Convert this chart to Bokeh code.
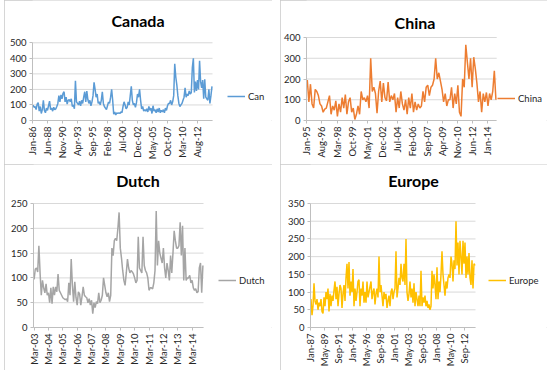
from bokeh.plotting import figure
from bokeh.layouts import column, row
from bokeh.models import Legend, LegendItem, Label, FixedTicker, ColumnDataSource, Range1d
from bokeh.embed import file_html
from bokeh.resources import INLINE

# ---------------- data ----------------
canada_labels = ["Jan-86", "Jun-88", "Nov-90", "Apr-93", "Sep-95", "Feb-98",
                 "Jul-00", "Dec-02", "May-05", "Oct-07", "Mar-10", "Aug-12"]
canada_months = 348          # Jan-86 .. Dec-14, one value per two months
canada_values = [
    100, 85, 90, 70, 105, 115,
    60, 90, 45, 70, 130, 65,
    50, 80, 65, 95, 125, 70,
    80, 60, 85, 70, 75, 90,
    110, 160, 120, 165, 140, 175,
    185, 120, 150, 105, 130, 135,
    120, 140, 90, 100, 75, 255,
    120, 110, 100, 125, 95, 130,
    110, 150, 185, 120, 190, 135,
    110, 130, 95, 120, 160, 245,
    200, 150, 170, 110, 120, 100,
    130, 185, 110, 90, 80, 70,
    95, 120, 110, 150, 200, 130,
    40, 55, 35, 50, 45, 50,
    45, 55, 50, 90, 120, 100,
    75, 85, 120, 100, 160, 220,
    130, 100, 110, 85, 115, 170,
    150, 200, 130, 75, 90, 60,
    70, 60, 75, 55, 90, 65,
    80, 45, 95, 60, 70, 50,
    75, 55, 80, 50, 65, 55,
    70, 50, 80, 65, 95, 110,
    110, 130, 100, 120, 160, 365,
    280, 230, 160, 110, 90, 100,
    110, 130, 150, 210, 150, 170,
    160, 190, 170, 180, 340, 400,
    180, 250, 190, 260, 200, 385,
    250, 210, 260, 140, 265, 150,
    140, 130, 200, 110, 160, 220,
]

china_labels = ["Jan-95", "Aug-96", "Mar-98", "Oct-99", "May-01", "Dec-02", "Jul-04",
                "Feb-06", "Sep-07", "Apr-09", "Nov-10", "Jun-12", "Jan-14"]
china_months = 240           # Jan-95 .. Dec-14, one value per two months
china_values = [
    195, 90, 175, 80, 60, 150,
    140, 120, 80, 70, 40, 55,
    60, 90, 120, 30, 70, 50,
    95, 20, 80, 40, 110, 60,
    125, 30, 90, 110, 40, 60,
    5, 30, 70, 30, 140, 100,
    110, 90, 120, 60, 300, 140,
    160, 130, 35, 140, 190, 90,
    180, 110, 95, 185, 90, 120,
    100, 130, 40, 110, 60, 140,
    80, 50, 100, 30, 110, 60,
    130, 40, 90, 50, 80, 60,
    70, 140, 90, 160, 170, 120,
    160, 170, 200, 300, 200, 230,
    190, 150, 90, 130, 70, 100,
    100, 160, 60, 130, 80, 170,
    40, 20, 200, 160, 365, 280,
    200, 300, 160, 305, 250, 180,
    90, 140, 40, 130, 90, 135,
    70, 130, 100, 140, 240, 100,
]

dutch_labels = ["Mar-03", "Mar-04", "Mar-05", "Mar-06", "Mar-07", "Mar-08",
                "Mar-09", "Mar-10", "Mar-11", "Mar-12", "Mar-13", "Mar-14"]
dutch_months = 142           # Mar-03 .. Dec-14, monthly
dutch_values = [
    97, 118, 120, 112, 165, 110, 65, 95, 80, 70, 88, 65,
    70, 50, 80, 48, 82, 65, 82, 72, 108, 75, 70, 65,
    60, 58, 56, 58, 52, 90, 65, 138, 85, 52, 92, 60,
    45, 72, 68, 45, 62, 82, 65, 62, 60, 50, 58, 45,
    55, 28, 50, 40, 52, 48, 70, 50, 55, 65, 100, 85,
    70, 62, 70, 52, 65,
    160, 145, 175, 180, 175, 200, 232,
    160, 140, 115, 95, 85, 110, 138, 120,
    110, 115, 112, 108, 100, 90, 95, 183,
    120, 115, 110, 183, 125, 115, 110, 100,
    75, 80, 80, 78, 90, 115,
    235, 125, 175, 150, 140, 130, 160, 120,
    100, 130, 115, 95, 145, 110, 150, 195,
    175, 160, 160, 165, 212, 145, 205, 95,
    160, 95, 100, 100, 105, 90, 95, 80,
    75, 78, 70, 72, 120, 130, 70, 125,
]

europe_labels = ["Jan-87", "May-89", "Sep-91", "Jan-94", "May-96", "Sep-98",
                 "Jan-01", "May-03", "Sep-05", "Jan-08", "May-10", "Sep-12"]
europe_months = 330          # Jan-87 .. Jun-14, one value per two months
europe_values = [
    80, 35, 60, 125, 75, 65,
    80, 50, 70, 60, 80, 45,
    40, 85, 60, 100, 80, 110,
    45, 95, 60, 90, 75, 105,
    130, 80, 115, 60, 95, 120,
    110, 55, 95, 120, 75, 140,
    180, 110, 185, 90, 130, 100,
    165, 60, 110, 75, 100, 130,
    135, 60, 110, 90, 130, 70,
    100, 70, 130, 85, 100, 115,
    130, 80, 100, 110, 65, 95,
    110, 85, 200, 100, 120, 90,
    60, 100, 80, 95, 55, 75,
    90, 60, 100, 110, 80, 100,
    110, 215, 85, 110, 140, 120,
    180, 140, 130, 180, 120, 250,
    100, 75, 95, 130, 85, 110,
    70, 125, 60, 100, 80, 60,
    90, 60, 160, 60, 85, 70,
    90, 60, 75, 55, 65, 50,
    60, 160, 110, 150, 120, 80,
    170, 80, 130, 100, 150, 215,
    150, 120, 90, 130, 110, 140,
    150, 140, 200, 180, 130, 190,
    165, 300, 175, 240, 150, 245,
    200, 150, 245, 180, 240, 140,
    200, 150, 210, 140, 120, 190,
    110, 180, 175,
]

FONT = "Lato"
AXIS_C = "#bfbfbf"
GRID_C = "#d9d9d9"
TEXT_C = "#262626"


def panel(title, legend_label, color, values, step, n_months, labels, interval,
          y_max, y_step, W, H, area, title_xy, leg_xy):
    # area: plot-area edges inside the figure (left, right, top, bottom) in px
    al, ar, at, ab = area
    frame_w = W - al
    x_end = -0.5 + n_months * frame_w / (ar - al)
    y_top = y_max * ab / (ab - at)
    p = figure(width=W, height=H, output_backend="svg", toolbar_location=None,
               x_range=Range1d(-0.5, x_end), y_range=Range1d(0, y_top),
               min_border_left=al, min_border_right=0,
               min_border_top=0, min_border_bottom=H - ab)
    p.outline_line_color = None
    p.background_fill_color = "white"
    p.border_fill_color = "white"
    p.styles = {"outline": "1px solid #c9c9c9", "outline-offset": "-1px"}
    p.xgrid.visible = False
    p.ygrid.visible = False

    y_ticks = list(range(0, y_max + 1, y_step))
    p.segment(x0=[-0.5] * len(y_ticks), x1=[n_months - 0.5] * len(y_ticks),
              y0=y_ticks, y1=y_ticks, line_color=GRID_C, line_width=1)

    xs = [i * step + (step - 1) / 2 for i in range(len(values))]
    src = ColumnDataSource(dict(x=xs, y=values))
    r = p.line("x", "y", source=src, line_color=color, line_width=1.5)

    ticks = [i * interval for i in range(len(labels))]
    p.xaxis.ticker = FixedTicker(ticks=ticks)
    p.xaxis.major_label_overrides = {t: lab for t, lab in zip(ticks, labels)}
    p.xaxis.major_label_orientation = 3.14159265 / 2
    p.xaxis.bounds = (-0.5, n_months - 0.5)
    p.yaxis.ticker = FixedTicker(ticks=y_ticks)
    p.yaxis.bounds = (0, y_max)

    for ax in (p.xaxis, p.yaxis):
        ax.axis_line_color = AXIS_C
        ax.major_tick_line_color = AXIS_C
        ax.minor_tick_line_color = None
        ax.major_tick_in = 0
        ax.major_tick_out = 3
        ax.major_label_text_font = FONT
        ax.major_label_text_font_size = "9.5px"
        ax.major_label_text_color = TEXT_C
        ax.major_label_standoff = 3

    p.add_layout(Label(x=title_xy[0], y=title_xy[1], x_units="screen", y_units="screen",
                       text=title, text_font=FONT, text_font_style="bold",
                       text_font_size="16px", text_color="black",
                       text_align="center", text_baseline="middle"))

    leg = Legend(items=[LegendItem(label=legend_label, renderers=[r])],
                 location=leg_xy, padding=0, margin=0, spacing=0,
                 glyph_width=18, glyph_height=12, label_standoff=3,
                 label_text_font=FONT, label_text_font_size="9.5px",
                 label_text_color=TEXT_C, label_height=12,
                 border_line_color=None, background_fill_alpha=0)
    p.add_layout(leg)
    return p


p1 = panel("Canada", "Can", "#5B9BD5", canada_values, 2, canada_months, canada_labels, 29,
           500, 100, 268, 164, (28, 208, 43, 122), (105.5, 100), (195, 18))
p2 = panel("China", "China", "#ED7D31", china_values, 2, china_months, china_labels, 19,
           400, 100, 267, 164, (25, 216, 37, 120), (108.5, 98), (191, 16))
p3 = panel("Dutch", "Dutch", "#A5A5A5", dutch_values, 1, dutch_months, dutch_labels, 12,
           250, 50, 268, 206, (29, 199, 39, 163), (104.5, 147.5), (185, 41))
p4 = panel("Europe", "Europe", "#FFC000", europe_values, 2, europe_months, europe_labels, 28,
           350, 50, 267, 206, (30, 195, 39, 163), (103, 147.5), (178, 41))

layout = column(row(p1, p2, spacing=8), row(p3, p4, spacing=8), spacing=0,
                margin=(0, 0, 0, 4))

open("out.html", "w").write(file_html(layout, INLINE))
